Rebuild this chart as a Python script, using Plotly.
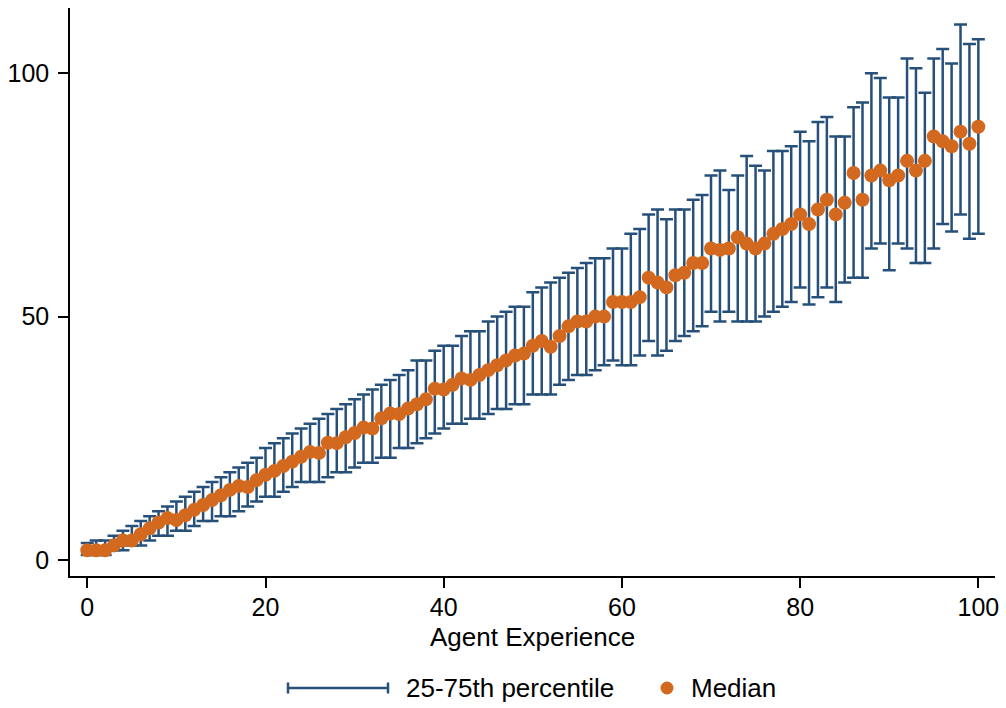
import plotly.graph_objects as go

# Agent experience (x) and the distribution of the outcome at each level
experience = list(range(101))

median = [
    2, 2, 2, 3, 4, 4, 5.3, 6.5, 7.7, 8.6,
    8.2, 9.2, 10.3, 11.3, 12.3, 13.3, 14.4, 15.2, 15, 16.4,
    17.5, 18.3, 19.3, 20.2, 21.2, 22.2, 22, 24.1, 24, 25.2,
    26.1, 27.2, 27, 29.1, 30.1, 30, 31.1, 32, 33, 35.2,
    35, 36, 37.3, 37, 38, 39, 40, 41, 42, 42.4,
    44, 45, 43.8, 46, 48, 49, 49, 50, 50, 53,
    53, 53, 54, 58, 57, 56, 58.5, 59, 61, 61,
    64, 63.7, 64, 66.3, 65, 64, 65, 67, 68, 69,
    71, 69, 72, 74, 71, 73.4, 79.5, 74, 79, 80,
    78, 79, 82, 80, 82, 87, 86, 85, 88, 85.5,
    89,
]

p25 = [
    1, 1, 1, 2, 2, 3, 3, 4, 5, 5,
    6, 6, 7, 8, 8, 9, 9, 10, 11, 12,
    13, 13, 14, 15, 16, 16, 16, 17, 18, 18,
    19, 20, 20, 21, 21, 23, 23, 24, 25, 26,
    27, 28, 28, 29, 29, 30, 31, 31, 32, 32,
    34, 34, 34, 36, 37, 38, 38, 39, 40, 41,
    40, 40, 42, 45, 42, 43, 45, 46, 47, 48,
    51, 49, 51, 49, 49, 49, 50, 51, 52, 53,
    56, 52.5, 54, 56, 53, 57, 58, 58, 64, 65,
    59.5, 65, 64, 61, 61, 64, 69, 67.5, 71, 66,
    67,
]

p75 = [
    3.5, 4, 4, 5, 6, 7, 8, 9, 10, 11,
    12, 13, 14, 15, 16, 17, 18, 19, 20, 21,
    23, 24, 25, 26, 27, 28, 29, 30, 31, 32,
    33, 34, 35, 36, 37, 38, 39, 41, 41, 43,
    44, 44, 46, 47, 47, 49, 50, 51, 52, 52,
    55, 56, 57, 58, 59, 60, 61, 62, 62, 64,
    64, 67, 68, 71, 72, 70, 72, 72, 74, 75,
    79, 80, 76, 79, 83, 81, 80, 84, 84, 85,
    88, 86, 90, 91, 87, 87, 93, 94, 100, 99,
    95, 95, 103, 101, 96, 103, 105, 102, 110, 106,
    107,
]

x_ticks = [0, 20, 40, 60, 80, 100]
y_ticks = [0, 50, 100]
x_title = "Agent Experience"

NAVY = "#26507a"
ORANGE = "#d2691e"
FONT = "Liberation Sans, Arial, sans-serif"

W, H = 1006, 708
ML, MR, MT, MB = 70, 11, 8, 132
PW, PH = W - ML - MR, H - MT - MB


def px_x(px):
    return (px - ML) / PW


def px_y(py):
    return (H - MB - py) / PH


fig = go.Figure()

# Interquartile range as capped error bars
fig.add_trace(go.Scatter(
    x=experience,
    y=median,
    mode="markers",
    marker=dict(size=1, color="rgba(0,0,0,0)"),
    error_y=dict(
        type="data",
        symmetric=False,
        array=[hi - m for hi, m in zip(p75, median)],
        arrayminus=[m - lo for m, lo in zip(median, p25)],
        color=NAVY,
        thickness=2.5,
        width=6.5,
    ),
    showlegend=False,
    hoverinfo="skip",
))

# Median markers
fig.add_trace(go.Scatter(
    x=experience,
    y=median,
    mode="markers",
    marker=dict(size=14, color=ORANGE, line=dict(width=0)),
    showlegend=False,
    name="Median",
))

# Legend drawn below the axis title
leg_y = 688
shapes = [
    dict(type="line", xref="paper", yref="paper",
         x0=px_x(288), x1=px_x(388), y0=px_y(leg_y), y1=px_y(leg_y),
         line=dict(color=NAVY, width=2.5)),
    dict(type="line", xref="paper", yref="paper",
         x0=px_x(288), x1=px_x(288), y0=px_y(leg_y - 5.5), y1=px_y(leg_y + 5.5),
         line=dict(color=NAVY, width=2.5)),
    dict(type="line", xref="paper", yref="paper",
         x0=px_x(388), x1=px_x(388), y0=px_y(leg_y - 5.5), y1=px_y(leg_y + 5.5),
         line=dict(color=NAVY, width=2.5)),
    dict(type="circle", xref="paper", yref="paper",
         x0=px_x(660.5), x1=px_x(673.5), y0=px_y(leg_y - 6.5), y1=px_y(leg_y + 6.5),
         fillcolor=ORANGE, line=dict(width=0)),
]
annotations = [
    # x-axis title
    dict(text=x_title, xref="paper", yref="paper",
         x=0.5, y=px_y(637), xanchor="center", yanchor="middle",
         showarrow=False, font=dict(family=FONT, size=26, color="black")),
    dict(text="25-75th percentile", xref="paper", yref="paper",
         x=px_x(404), y=px_y(leg_y), xanchor="left", yanchor="middle",
         showarrow=False, font=dict(family=FONT, size=26, color="black")),
    dict(text="Median", xref="paper", yref="paper",
         x=px_x(689), y=px_y(leg_y), xanchor="left", yanchor="middle",
         showarrow=False, font=dict(family=FONT, size=26, color="black")),
]

fig.update_layout(
    width=W,
    height=H,
    autosize=False,
    margin=dict(l=ML, r=MR, t=MT, b=MB, pad=0),
    paper_bgcolor="white",
    plot_bgcolor="white",
    font=dict(family=FONT, size=25, color="black"),
    shapes=shapes,
    annotations=annotations,
    showlegend=False,
)

fig.update_xaxes(
    range=[-1.94, 101.87],
    tickvals=x_ticks,
    ticktext=[str(v) for v in x_ticks],
    ticks="outside",
    ticklen=10,
    tickwidth=1.5,
    tickcolor="black",
    showline=True,
    linecolor="black",
    linewidth=1.5,
    showgrid=False,
    zeroline=False,
    tickfont=dict(family=FONT, size=25),
    ticklabelstandoff=-2,
)

fig.update_yaxes(
    range=[-3.29, 113.4],
    tickvals=y_ticks,
    ticktext=[str(v) for v in y_ticks],
    ticks="outside",
    ticklen=10,
    tickwidth=1.5,
    tickcolor="black",
    showline=True,
    linecolor="black",
    linewidth=1.5,
    showgrid=False,
    zeroline=False,
    tickfont=dict(family=FONT, size=25),
    ticklabelstandoff=4,
)

fig.write_html("out.html")
